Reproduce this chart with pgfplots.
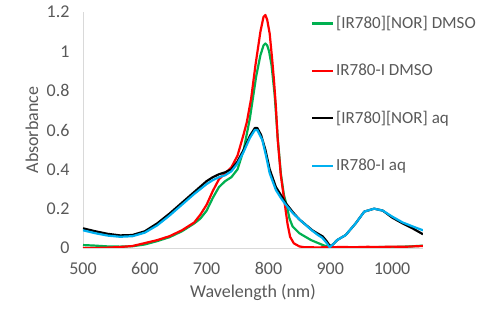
\documentclass[border=0pt]{standalone}
\usepackage{pgfplots}
\pgfplotsset{compat=1.18}
\usepackage{fontspec}
\setmainfont{Carlito}
\definecolor{txtgrey}{HTML}{595959}
\definecolor{axgrey}{HTML}{D9D9D9}
\definecolor{xlgreen}{HTML}{00B050}
\definecolor{xlred}{HTML}{FF0000}
\definecolor{xlblue}{HTML}{00B0F0}
\begin{document}
\begin{tikzpicture}
\path[use as bounding box] (-83pt,-83pt) rectangle (413pt,248pt);
\begin{axis}[
  at={(0pt,0pt)}, anchor=south west,
  scale only axis, width=340pt, height=236pt,
  xmin=500, xmax=1050, ymin=0, ymax=1.2,
  xtick={500,600,...,1000}, ytick={0,0.2,...,1.2},
  axis x line*=bottom, axis y line*=left,
  axis line style={axgrey, line width=0.8pt, -},
  major tick length=0pt,
  /pgf/number format/assume math mode=true,
  /pgf/number format/1000 sep={},
  tick label style={font=\fontsize{18}{21}\selectfont, text=txtgrey},
  xticklabel style={yshift=-11pt},
  yticklabel style={xshift=-10pt},
  label style={font=\fontsize{18}{21}\selectfont, text=txtgrey},
  xlabel={Wavelength (nm)},
  xlabel style={at={(axis description cs:0.5,0)}, anchor=base, yshift=-50pt},
  ylabel={Absorbance},
  ylabel style={at={(axis description cs:-0.132,0.5)}, anchor=base, rotate=0},
  legend style={at={(0.67,0.99)}, anchor=north west, draw=none, fill=none,
    font=\fontsize{17}{20}\selectfont, text=txtgrey, row sep=30pt, inner sep=0pt},
  legend cell align=left,
  legend image code/.code={\draw[#1] (0pt,0pt) -- (21pt,0pt);},
  every axis plot/.append style={line width=2.2pt, line join=round},
  clip=true,
]
\addplot[xlgreen] coordinates {
(500,0.015)(520,0.012)(540,0.008)(560,0.007)(580,0.009)(600,0.018)(620,0.035)(640,0.055)
(660,0.085)(680,0.125)(690,0.15)(700,0.19)(710,0.255)(720,0.31)(730,0.34)(740,0.36)
(750,0.40)(760,0.50)(770,0.66)(780,0.87)(787,0.98)(792,1.03)(795,1.04)(798,1.03)(801,1.0)(805,0.93)
(810,0.78)(815,0.56)(820,0.38)(825,0.27)(830,0.21)(834,0.15)(839,0.11)(850,0.075)
(869,0.04)(888,0.015)(898,0.004)(920,0.004)(950,0.004)(1000,0.005)(1030,0.008)(1050,0.012)
};
\addlegendentry{[IR780][NOR] DMSO}
\addplot[xlred] coordinates {
(500,0.0)(520,0.0)(540,0.002)(560,0.005)(580,0.01)(600,0.025)(620,0.04)(640,0.06)
(660,0.09)(680,0.13)(690,0.17)(700,0.22)(710,0.29)(720,0.35)(730,0.38)(740,0.41)
(750,0.47)(760,0.58)(765,0.64)(772,0.76)(779,0.93)(787,1.10)(792,1.175)(795,1.185)
(798,1.16)(802,1.09)(806,0.96)(809,0.85)(812,0.72)(815,0.55)(820,0.37)(827,0.21)
(831,0.12)(835,0.057)(841,0.024)(850,0.008)(858,0.004)(880,0.003)(900,0.004)(920,0.005)
(940,0.004)(960,0.006)(980,0.005)(1000,0.007)(1020,0.006)(1040,0.009)(1050,0.01)
};
\addlegendentry{IR780-I DMSO}
\addplot[black] coordinates {
(500,0.10)(520,0.085)(540,0.072)(560,0.064)(580,0.066)(600,0.085)(620,0.125)(640,0.175)
(660,0.23)(680,0.285)(700,0.34)(710,0.36)(720,0.375)(730,0.385)(740,0.40)(750,0.44)
(760,0.50)(770,0.57)(778,0.61)(782,0.61)(788,0.575)(795,0.50)(802,0.40)(812,0.31)
(820,0.27)(828,0.228)(840,0.18)(850,0.145)(871,0.09)(888,0.058)(894,0.035)(900,0.008)
(905,0.02)(911,0.04)(925,0.066)(941,0.125)(955,0.185)(971,0.20)(985,0.19)(1000,0.155)
(1017,0.125)(1033,0.10)(1050,0.07)
};
\addlegendentry{[IR780][NOR] aq}
\addplot[xlblue] coordinates {
(500,0.09)(520,0.075)(540,0.063)(560,0.057)(580,0.06)(600,0.078)(620,0.115)(640,0.165)
(660,0.22)(680,0.275)(700,0.325)(710,0.345)(720,0.36)(730,0.37)(740,0.39)(750,0.43)
(760,0.49)(770,0.56)(778,0.60)(782,0.60)(790,0.55)(796,0.47)(802,0.38)(812,0.295)
(820,0.255)(828,0.22)(840,0.175)(852,0.14)(870,0.09)(880,0.066)(887,0.052)(893,0.03)
(899,0.004)(905,0.02)(911,0.04)(925,0.066)(941,0.125)(955,0.185)(971,0.20)(985,0.19)(1000,0.16)
(1017,0.13)(1033,0.11)(1050,0.09)
};
\addlegendentry{IR780-I aq}
\end{axis}
\end{tikzpicture}
\end{document}
